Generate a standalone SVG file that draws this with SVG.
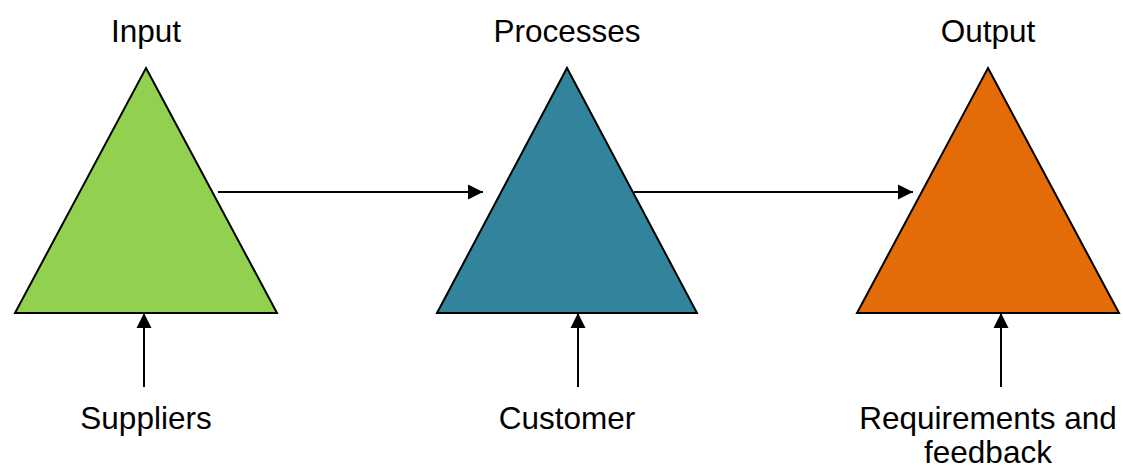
<svg xmlns="http://www.w3.org/2000/svg" width="1123" height="469" viewBox="0 0 1123 469">
<defs>
<marker id="ah" markerWidth="16" markerHeight="16" viewBox="0 0 16 16" refX="15" refY="8" orient="auto" markerUnits="userSpaceOnUse">
<path d="M0,0.5 L15,8 L0,15.5 Z" fill="#000"/>
</marker>
<style>
.tri{stroke:#000;stroke-width:2;stroke-linejoin:miter}
.lbl{font-family:"Liberation Sans",Arial,sans-serif;font-size:31.5px;fill:#000;text-anchor:middle}
.con{stroke:#000;stroke-width:2;fill:none;marker-end:url(#ah)}
</style>
</defs>
<rect width="1123" height="469" fill="#fff"/>
<g id="input">
<polygon class="tri" points="146,68 277,313 15,313" fill="#92D050"/>
<text class="lbl" x="146" y="42">Input</text>
</g>
<g id="processes">
<polygon class="tri" points="567,68 697,313 437,313" fill="#31849B"/>
<text class="lbl" x="567" y="42">Processes</text>
</g>
<g id="output">
<polygon class="tri" points="988,68 1119,313 857,313" fill="#E36C09"/>
<text class="lbl" x="988" y="42">Output</text>
</g>
<g id="suppliers">
<text class="lbl" x="146" y="429">Suppliers</text>
</g>
<g id="customer">
<text class="lbl" x="567" y="429">Customer</text>
</g>
<g id="requirements">
<text class="lbl" x="988" y="429">Requirements and</text>
<text class="lbl" x="988" y="463">feedback</text>
</g>
<g id="connectors">
<line class="con" x1="218" y1="192" x2="483" y2="192"/>
<line class="con" x1="634" y1="192" x2="913" y2="192"/>
<line class="con" x1="144" y1="387" x2="144" y2="313"/>
<line class="con" x1="578" y1="387" x2="578" y2="313"/>
<line class="con" x1="1001" y1="387" x2="1001" y2="313"/>
</g>
</svg>
